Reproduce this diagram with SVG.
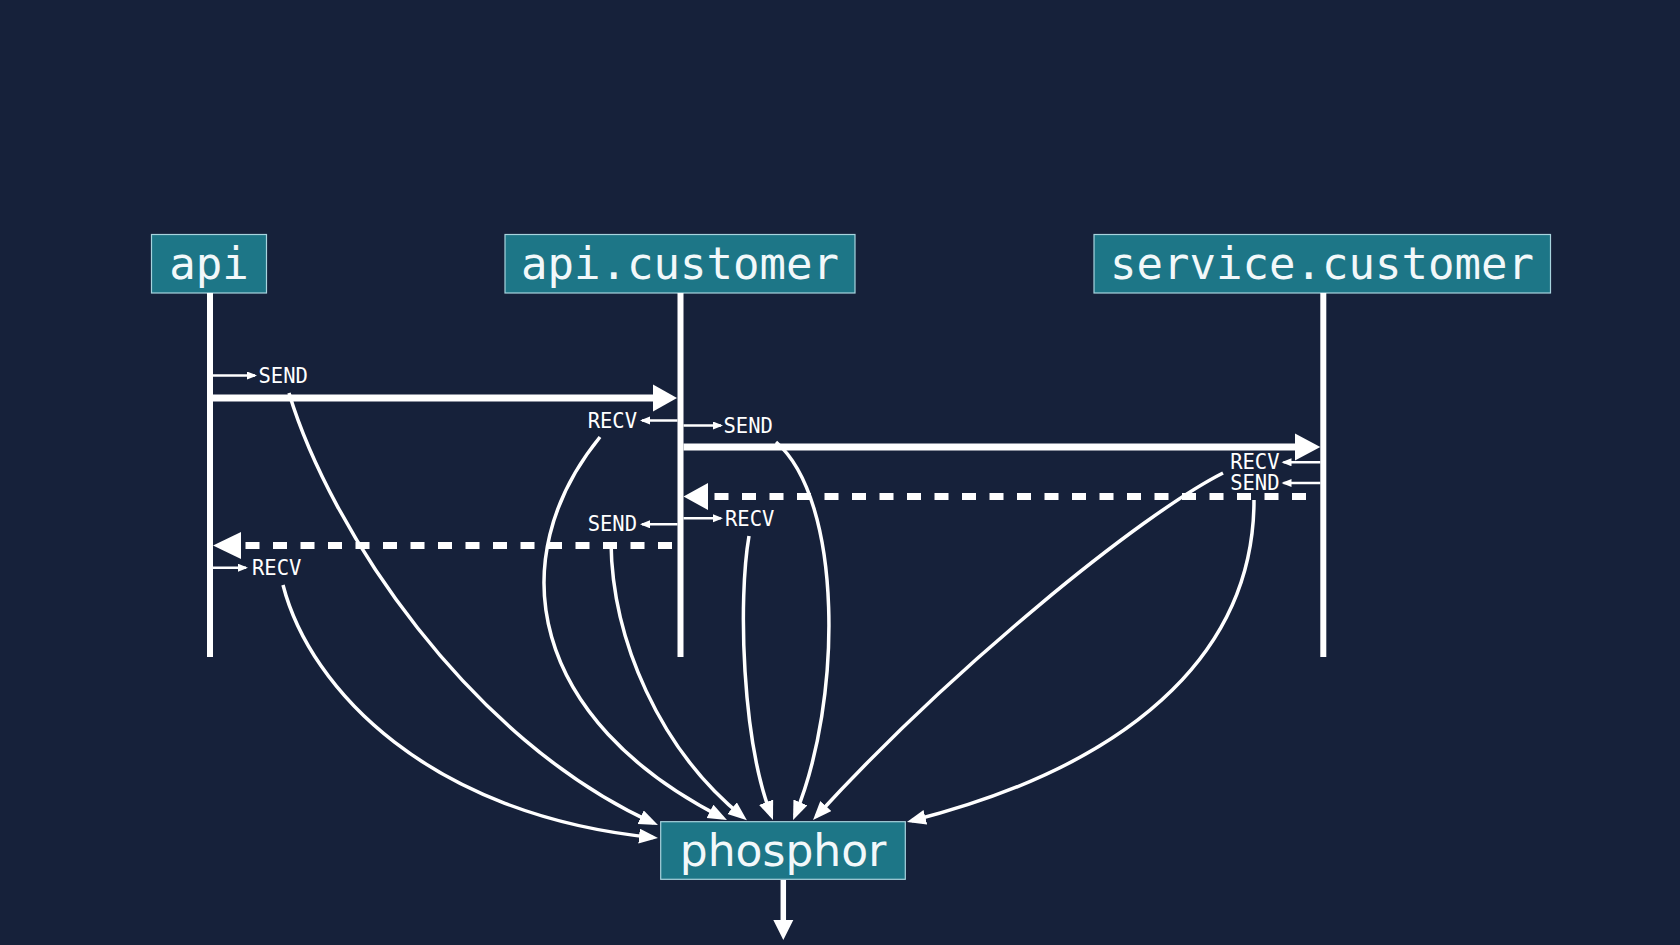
<svg xmlns="http://www.w3.org/2000/svg" width="1680" height="945" viewBox="0 0 1680 945">
  <style>
    .box { fill: #1d7687; stroke: #a8d4de; stroke-width: 1.2; }
    .big { font-family: "DejaVu Sans Mono", "Liberation Mono", monospace; font-size: 44px; fill: #f2f8fa; text-anchor: middle; }
    .bigsans { font-family: "DejaVu Sans", "Liberation Sans", sans-serif; font-size: 44px; fill: #f2f8fa; text-anchor: middle; }
    .lbl { font-family: "DejaVu Sans Mono", "Liberation Mono", monospace; font-size: 20.5px; fill: #ffffff; }
    .end { text-anchor: end; }
    .life { stroke: #ffffff; stroke-width: 6; fill: none; }
    .thick { stroke: #ffffff; stroke-width: 7; fill: none; }
    .dash { stroke: #ffffff; stroke-width: 7; fill: none; stroke-dasharray: 14 13.5; }
    .small { stroke: #ffffff; stroke-width: 2.5; fill: none; marker-end: url(#sm); }
    .curve { stroke: #ffffff; stroke-width: 3.5; fill: none; marker-end: url(#cv); }
    .head { fill: #ffffff; }
  </style>
  <defs>
    <marker id="sm" markerUnits="userSpaceOnUse" markerWidth="12" markerHeight="10" refX="8" refY="4" orient="auto">
      <path d="M0,0 L10,4 L0,8 z" fill="#ffffff"/>
    </marker>
    <marker id="cv" markerUnits="userSpaceOnUse" markerWidth="20" markerHeight="16" refX="14" refY="7.5" orient="auto">
      <path d="M0,0 L19,7.5 L0,15 z" fill="#ffffff"/>
    </marker>
  </defs>
  <rect x="0" y="0" width="1680" height="945" fill="#16213a"/>

  <g id="node-api">
    <rect class="box" x="151.5" y="234.5" width="115" height="58.5"/>
    <text class="big" x="209" y="279">api</text>
    <line class="life" x1="210" y1="293" x2="210" y2="657"/>
  </g>
  <g id="node-api-customer">
    <rect class="box" x="505" y="234.5" width="350" height="58.5"/>
    <text class="big" x="680" y="279">api.customer</text>
    <line class="life" x1="680.5" y1="293" x2="680.5" y2="657"/>
  </g>
  <g id="node-service-customer">
    <rect class="box" x="1094" y="234.5" width="456.5" height="58.5"/>
    <text class="big" x="1322" y="279">service.customer</text>
    <line class="life" x1="1323.3" y1="293" x2="1323.3" y2="657"/>
  </g>
  <g id="node-phosphor">
    <rect class="box" x="660.7" y="821.7" width="244.6" height="57.6"/>
    <text class="bigsans" x="783" y="866">phosphor</text>
  </g>

  <g id="connectors">
    <!-- message 1: api -> api.customer -->
    <line class="thick" x1="213" y1="398" x2="656" y2="398"/>
    <polygon class="head" points="677,398 653,384.5 653,411.5"/>
    <!-- message 2: api.customer -> service.customer -->
    <line class="thick" x1="683.5" y1="447" x2="1298" y2="447"/>
    <polygon class="head" points="1320.3,447 1295,433.5 1295,460.5"/>
    <!-- reply 2: service.customer -> api.customer -->
    <path class="dash" d="M1306,496.5 L706,496.5"/>
    <polygon class="head" points="683.5,496.5 708,483 708,510"/>
    <!-- reply 1: api.customer -> api -->
    <path class="dash" d="M672,545.5 L238,545.5"/>
    <polygon class="head" points="213,545.5 241,532 241,559"/>

    <!-- event ticks -->
    <line class="small" x1="213" y1="375.5" x2="255" y2="375.5"/>
    <text class="lbl" x="258.5" y="382.5">SEND</text>
    <line class="small" x1="677.5" y1="420.5" x2="642" y2="420.5"/>
    <text class="lbl end" x="637" y="427.5">RECV</text>
    <line class="small" x1="683.5" y1="425.5" x2="721" y2="425.5"/>
    <text class="lbl" x="723.5" y="433">SEND</text>
    <line class="small" x1="1320.3" y1="462.3" x2="1283.5" y2="462.3"/>
    <text class="lbl end" x="1279.5" y="469.3">RECV</text>
    <line class="small" x1="1320.3" y1="483" x2="1283.5" y2="483"/>
    <text class="lbl end" x="1279.5" y="489.5">SEND</text>
    <line class="small" x1="683.5" y1="518.3" x2="721" y2="518.3"/>
    <text class="lbl" x="725" y="526">RECV</text>
    <line class="small" x1="677.5" y1="524.3" x2="642" y2="524.3"/>
    <text class="lbl end" x="637" y="531">SEND</text>
    <line class="small" x1="213" y1="567.7" x2="246" y2="567.7"/>
    <text class="lbl" x="252" y="575">RECV</text>

    <!-- events to phosphor -->
    <path class="curve" d="M283,585 C310,690 430,815 653,837.5"/>
    <path class="curve" d="M289,393 C330,530 470,740 653.4,823"/>
    <path class="curve" d="M600,437 C500,560 530,720 722.5,817.7"/>
    <path class="curve" d="M611,542 C612,640 660,750 743,817"/>
    <path class="curve" d="M749,536 C738,600 742,740 771.2,815.3"/>
    <path class="curve" d="M776,442 C843,500 843,700 795,815.4"/>
    <path class="curve" d="M1223,473 C1140,515 950,670 816.4,816.3"/>
    <path class="curve" d="M1254,500 C1254,640 1150,760 911.8,820.8"/>

    <!-- phosphor output -->
    <line x1="783.3" y1="880" x2="783.3" y2="922" stroke="#ffffff" stroke-width="5.5"/>
    <polygon class="head" points="783.3,940 773.3,920 793.3,920"/>
  </g>
</svg>
